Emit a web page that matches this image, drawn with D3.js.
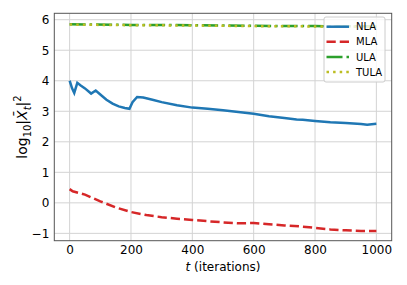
<!DOCTYPE html>
<html>
<head>
<meta charset="UTF-8">
<style>
  body { margin: 0; background: #fff; }
  svg { display: block; font-family: "DejaVu Sans", sans-serif; }
</style>
</head>
<body>
<svg></svg>
<script src="https://d3js.org/d3.v7.min.js"></script>
<script>

let width = 407, height = 285;

// data
let nlaT = [0, 8, 15, 25, 35, 50, 70, 85, 100, 120, 140, 160, 180, 195, 205, 220, 240, 270, 300, 350, 400, 450, 500, 550, 600, 650, 700, 740, 760, 800, 850, 900, 950, 970, 1000];
let nlaV = [4.0, 3.75, 3.6, 3.93, 3.85, 3.75, 3.58, 3.68, 3.55, 3.38, 3.25, 3.16, 3.11, 3.08, 3.3, 3.47, 3.45, 3.38, 3.3, 3.2, 3.12, 3.08, 3.03, 2.98, 2.92, 2.84, 2.78, 2.73, 2.72, 2.68, 2.64, 2.62, 2.58, 2.56, 2.59];

let mlaT = [0, 10, 50, 100, 150, 200, 250, 300, 350, 400, 450, 500, 550, 600, 650, 700, 750, 800, 850, 900, 950, 1000];
let mlaV = [0.45, 0.38, 0.27, 0.05, -0.15, -0.3, -0.4, -0.47, -0.52, -0.56, -0.6, -0.64, -0.67, -0.66, -0.7, -0.74, -0.77, -0.82, -0.87, -0.9, -0.92, -0.92];

let ulaT = [0, 200, 400, 600, 800, 1000];
let ulaV = [5.85, 5.83, 5.82, 5.80, 5.79, 5.78];
let tulaV = [5.84, 5.82, 5.81, 5.79, 5.78, 5.77];

let xTicks = [0, 200, 400, 600, 800, 1000];
let yTicks = [-1, 0, 1, 2, 3, 4, 5, 6];

let series = [
  {name: "NLA", t: nlaT, v: nlaV, color: "#1f77b4", dash: null},
  {name: "MLA", t: mlaT, v: mlaV, color: "#d62728", dash: "9.25,4"},
  {name: "ULA", t: ulaT, v: ulaV, color: "#2ca02c", dash: "16,4,2.5,4"},
  {name: "TULA", t: ulaT, v: tulaV, color: "#bcbd22", dash: "2.5,4.1"}
];

let mLeft = 54.3, mRight = 391.7, mTop = 13.3, mBottom = 240.7;

let svg = d3.select("svg")
    .attr("width", width)
    .attr("height", height);

let x = d3.scaleLinear().domain([-50, 1050]).range([mLeft, mRight]);
let y = d3.scaleLinear().domain([-1.24, 6.21]).range([mBottom, mTop]);

// grid
svg.append("g").selectAll("line")
    .data(xTicks).enter().append("line")
    .attr("x1", d => x(d)).attr("x2", d => x(d))
    .attr("y1", mTop).attr("y2", mBottom)
    .attr("stroke", "#d3d3d3").attr("stroke-width", 1);
svg.append("g").selectAll("line")
    .data(yTicks).enter().append("line")
    .attr("x1", mLeft).attr("x2", mRight)
    .attr("y1", d => y(d)).attr("y2", d => y(d))
    .attr("stroke", "#d3d3d3").attr("stroke-width", 1);

// axes (ticks hidden, only labels)
let xAxis = svg.append("g")
    .attr("transform", "translate(0," + mBottom + ")")
    .call(d3.axisBottom(x).tickValues(xTicks).tickSize(0).tickPadding(5)
      .tickFormat(d3.format("d")));
let yAxis = svg.append("g")
    .attr("transform", "translate(" + mLeft + ",0)")
    .call(d3.axisLeft(y).tickValues(yTicks).tickSize(0).tickPadding(5)
      .tickFormat(d => d < 0 ? "\u2212" + Math.abs(d) : d));
[xAxis, yAxis].forEach(a => {
  a.select(".domain").remove();
  a.selectAll("text").attr("font-size", 12).attr("fill", "#000")
    .attr("font-family", "DejaVu Sans");
});

// lines
let line = d3.line().x(d => x(d[0])).y(d => y(d[1]));
series.forEach(s => {
  svg.append("path")
    .datum(s.t.map((t, i) => [t, s.v[i]]))
    .attr("d", line)
    .attr("fill", "none")
    .attr("stroke", s.color)
    .attr("stroke-width", 2.5)
    .attr("stroke-dasharray", s.dash);
});

// frame
svg.append("rect")
    .attr("x", mLeft).attr("y", mTop)
    .attr("width", mRight - mLeft).attr("height", mBottom - mTop)
    .attr("fill", "none").attr("stroke", "#555").attr("stroke-width", 1);

// legend
let lg = svg.append("g");
lg.append("rect")
    .attr("x", 324).attr("y", 17).attr("width", 61).attr("height", 65)
    .attr("rx", 2)
    .attr("fill", "#fff").attr("fill-opacity", 0.8)
    .attr("stroke", "#ccc").attr("stroke-width", 1);
series.forEach((s, i) => {
  let yy = 26.7 + i * 15.1;
  lg.append("line")
    .attr("x1", 326.5).attr("x2", 349)
    .attr("y1", yy).attr("y2", yy)
    .attr("stroke", s.color).attr("stroke-width", 2.5)
    .attr("stroke-dasharray", s.dash);
  lg.append("text")
    .attr("x", 356).attr("y", yy + 3.6)
    .attr("font-size", 10)
    .text(s.name);
});

// axis labels
let xl = svg.append("text")
    .attr("x", (mLeft + mRight) / 2).attr("y", 271)
    .attr("text-anchor", "middle")
    .attr("font-size", 12);
xl.append("tspan").attr("font-style", "italic").text("t");
xl.append("tspan").text(" (iterations)");

let yl = svg.append("text")
    .attr("transform", "translate(27," + ((mTop + mBottom) / 2) + ") rotate(-90)")
    .attr("text-anchor", "middle")
    .attr("font-size", 14);
yl.append("tspan").text("log");
yl.append("tspan").attr("font-size", 10).attr("dy", 3.5).text("10");
yl.append("tspan").attr("dy", -3.5).text("|");
yl.append("tspan").attr("font-style", "italic").text("X\u0304");
yl.append("tspan").attr("font-size", 10).attr("font-style", "italic").attr("dy", 3.5).text("t");
yl.append("tspan").attr("dy", -3.5).text("|");
yl.append("tspan").attr("font-size", 10).attr("dy", -6).text("2");

</script>
</body>
</html>
